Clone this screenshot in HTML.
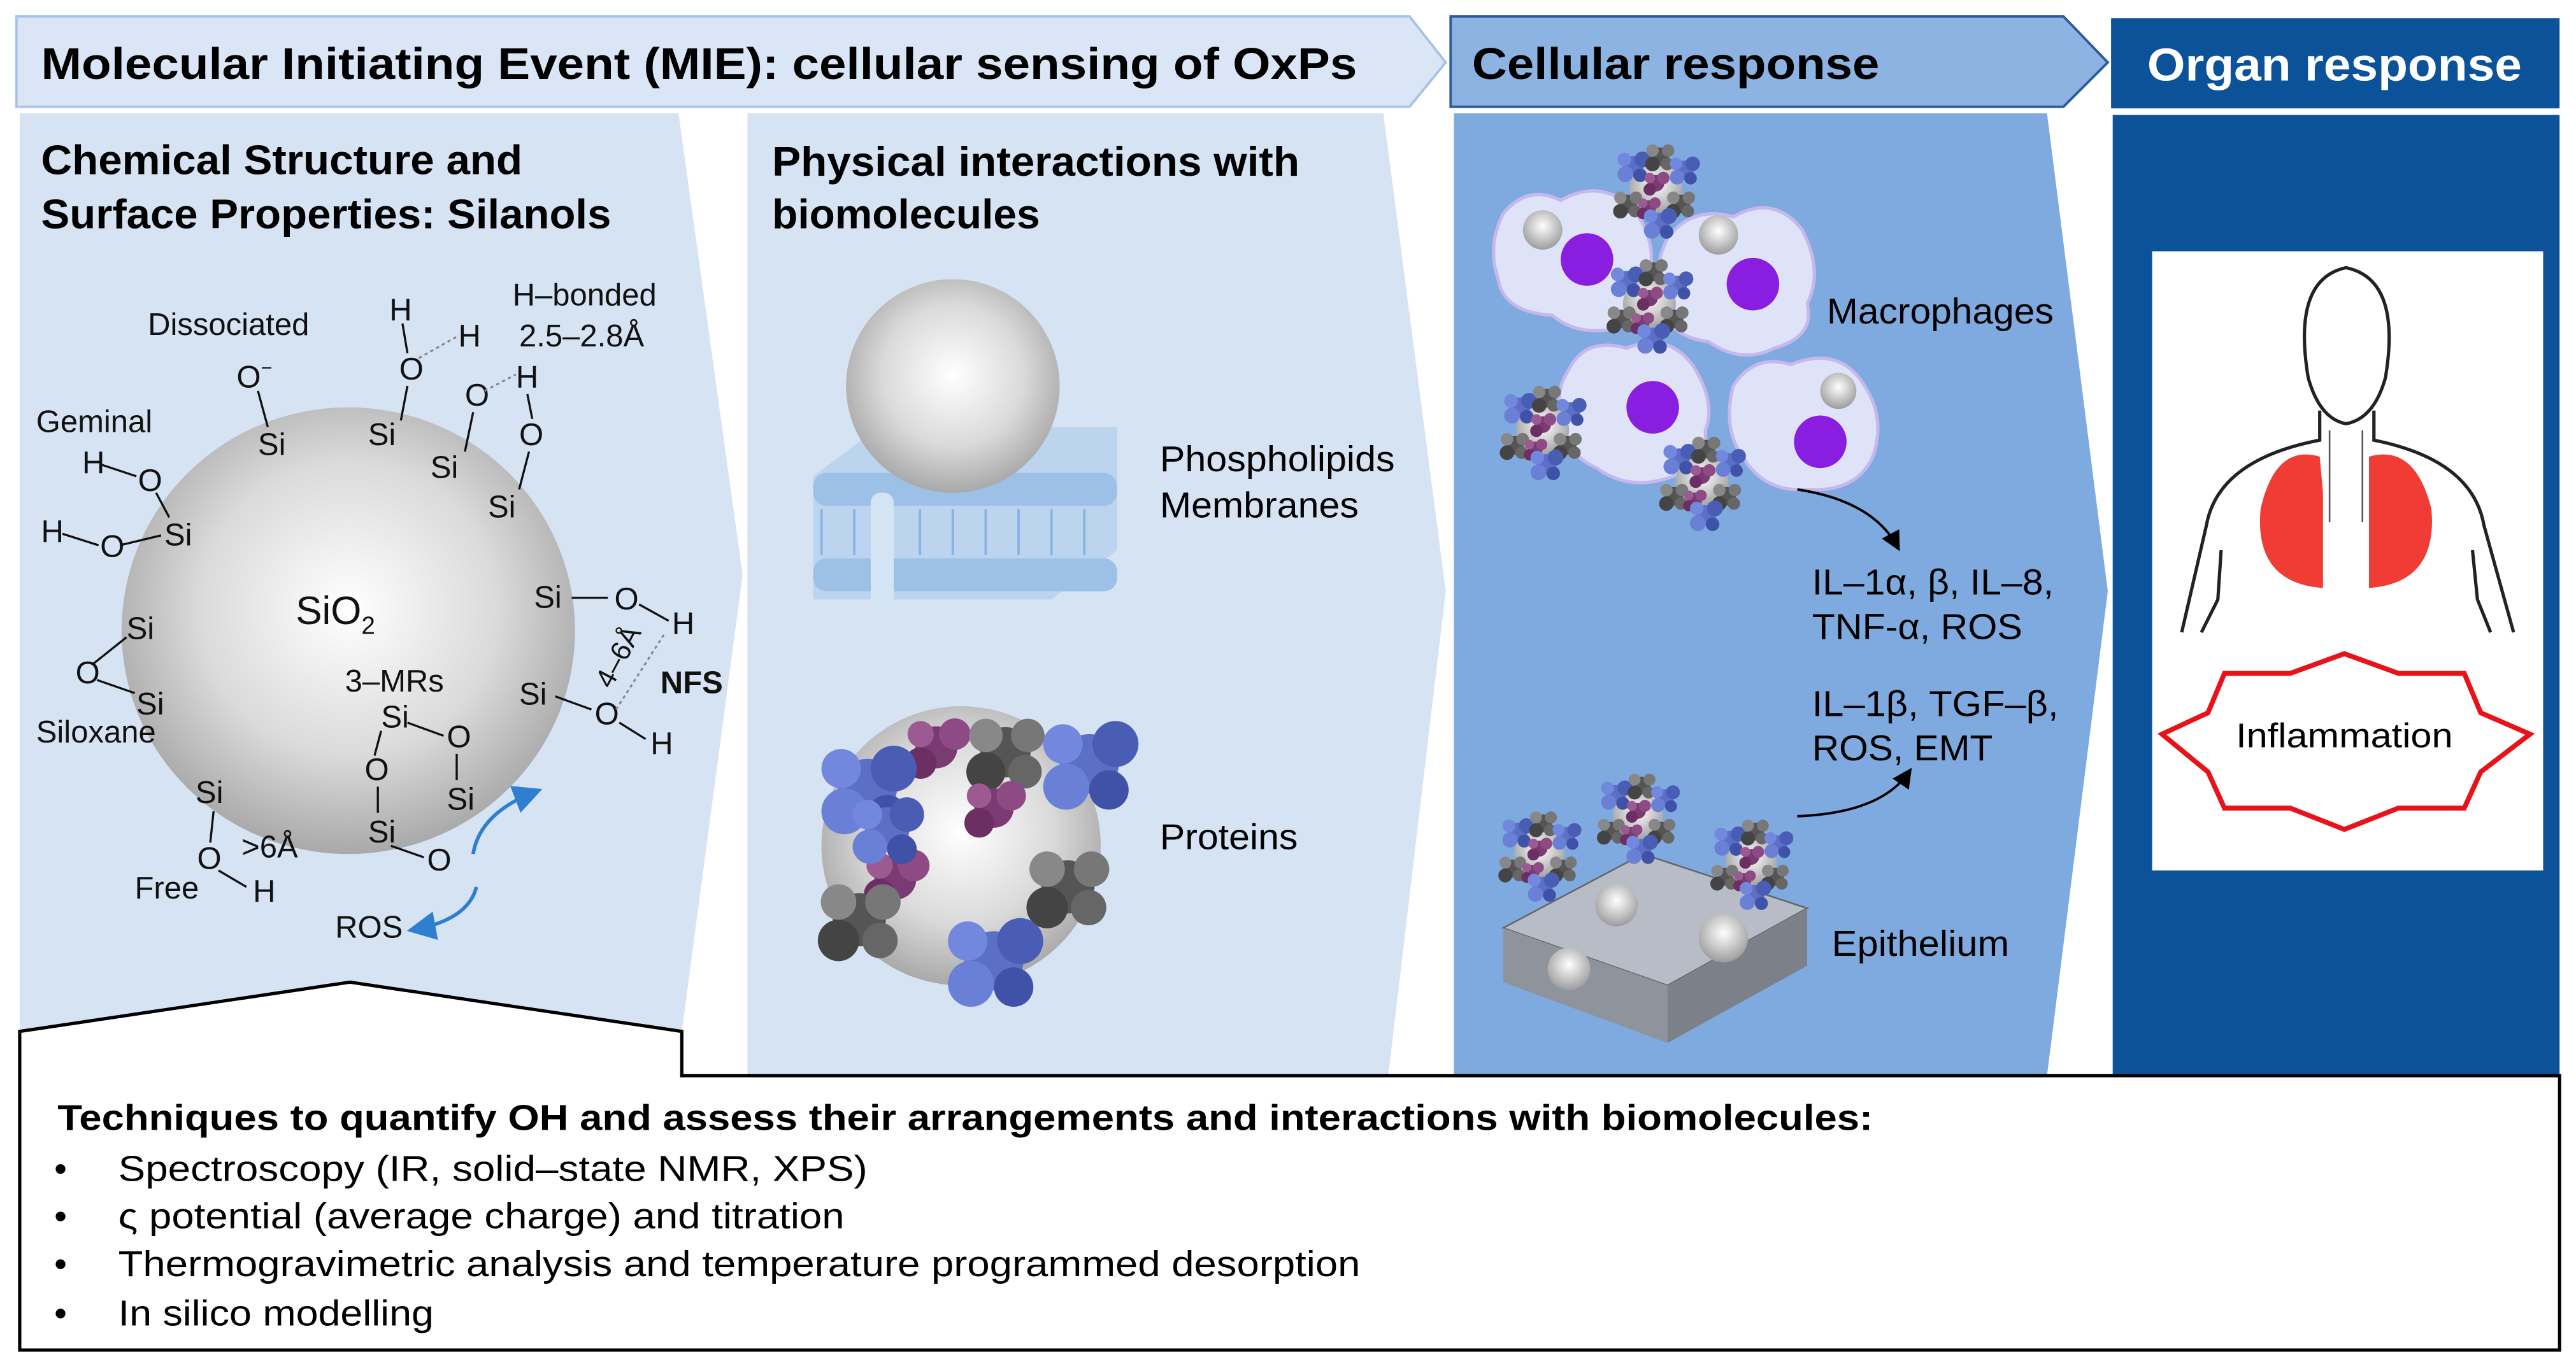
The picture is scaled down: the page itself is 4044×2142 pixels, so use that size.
<!DOCTYPE html>
<html><head><meta charset="utf-8"><style>
html,body{margin:0;padding:0;background:#fff}
svg{display:block}
text{font-family:"Liberation Sans",sans-serif}
</style></head><body>
<svg width="4044" height="2142" viewBox="0 0 1568 830.5" preserveAspectRatio="none" xmlns="http://www.w3.org/2000/svg">
<defs>
<radialGradient id="sph" cx="0.5" cy="0.45" r="0.55"><stop offset="0" stop-color="#ffffff"/><stop offset="0.6" stop-color="#dadada"/><stop offset="1" stop-color="#a9a9a9"/></radialGradient>
<radialGradient id="sph2" cx="0.5" cy="0.4" r="0.6"><stop offset="0" stop-color="#ffffff"/><stop offset="1" stop-color="#9c9c9c"/></radialGradient>
<g id="blobB"><circle cx="0" cy="0" r="9" fill="#5b6fc4"/><circle cx="8" cy="-6" r="7" fill="#4a5db5"/><circle cx="-7" cy="7" r="7" fill="#6a80d6"/><circle cx="6" cy="8" r="6" fill="#3f52a8"/><circle cx="-8" cy="-6" r="6" fill="#7288de"/></g>
<g id="blobP"><circle cx="0" cy="0" r="8" fill="#7a3a72"/><circle cx="7" cy="-5" r="6" fill="#8e4a85"/><circle cx="-6" cy="6" r="6" fill="#6b2f63"/><circle cx="-6" cy="-5" r="5" fill="#9b5a92"/></g>
<g id="blobG"><circle cx="0" cy="0" r="9" fill="#555"/><circle cx="8" cy="-6" r="6" fill="#777"/><circle cx="-7" cy="7" r="7" fill="#444"/><circle cx="7" cy="7" r="6" fill="#666"/><circle cx="-7" cy="-6" r="6" fill="#888"/></g>
<g id="part"><circle r="14" fill="url(#sph2)"/>
<use href="#blobB" transform="translate(-12,-12) scale(0.6)"/><use href="#blobG" transform="translate(2,-17) scale(0.55)"/><use href="#blobB" transform="translate(15,-10) scale(0.55)"/>
<use href="#blobP" transform="translate(0,-3) scale(0.55)"/><use href="#blobG" transform="translate(-15,8) scale(0.55)"/><use href="#blobP" transform="translate(-4,10) scale(0.5)"/>
<use href="#blobG" transform="translate(13,8) scale(0.55)"/><use href="#blobB" transform="translate(2,18) scale(0.6)"/></g>
<marker id="ah" markerWidth="8" markerHeight="8" refX="6" refY="4" orient="auto"><path d="M0,0 L8,4 L0,8 Z" fill="#000"/></marker>
<marker id="ahb" markerWidth="8" markerHeight="8" refX="6" refY="4" orient="auto"><path d="M0,0 L8,4 L0,8 Z" fill="#2f7fd0"/></marker>
</defs>

<!-- headers -->
<polygon points="10,10 858,10 880,38 858,65 10,65" fill="#dae6f6" stroke="#a9c3e6" stroke-width="1.5"/>
<text x="25" y="48" font-size="27" font-weight="bold" textLength="801" lengthAdjust="spacingAndGlyphs">Molecular Initiating Event (MIE): cellular sensing of OxPs</text>
<polygon points="883,10 1256,10 1283,38 1256,65 883,65" fill="#8db3e2" stroke="#2e5a9c" stroke-width="1.5"/>
<text x="896" y="48" font-size="27" font-weight="bold" textLength="248" lengthAdjust="spacingAndGlyphs">Cellular response</text>
<rect x="1285" y="11" width="273" height="55" fill="#0b5299"/>
<text x="1307" y="49" font-size="28" font-weight="bold" fill="#fff" textLength="228" lengthAdjust="spacingAndGlyphs">Organ response</text>

<!-- panels -->
<polygon points="12,69 413,69 452,350 415,628 213,598 12,628" fill="#d6e3f3"/>
<polygon points="455,69 842,69 880,360 845,655 455,655" fill="#d6e3f3"/>
<polygon points="885,69 1246,69 1283,360 1246,655 885,655" fill="#7faadf"/>
<rect x="1286" y="70" width="272" height="585" fill="#0b5299"/>

<!-- bottom box -->
<polygon points="12,628 213,598 415,628 415,655 1558,655 1558,822 12,822" fill="#fff" stroke="#000" stroke-width="2"/>
<text x="35" y="688" font-size="22" font-weight="bold" textLength="1105" lengthAdjust="spacingAndGlyphs">Techniques to quantify OH and assess their arrangements and interactions with biomolecules:</text>
<g font-size="22">
<text x="33" y="719">•</text><text x="72" y="719" textLength="456" lengthAdjust="spacingAndGlyphs">Spectroscopy (IR, solid–state NMR, XPS)</text>
<text x="33" y="748">•</text><text x="72" y="748" textLength="442" lengthAdjust="spacingAndGlyphs">ς potential (average charge) and titration</text>
<text x="33" y="777">•</text><text x="72" y="777" textLength="756" lengthAdjust="spacingAndGlyphs">Thermogravimetric analysis and temperature programmed desorption</text>
<text x="33" y="807">•</text><text x="72" y="807" textLength="192" lengthAdjust="spacingAndGlyphs">In silico modelling</text>
</g>

<!-- panel 1 -->
<text x="25" y="106" font-size="25" font-weight="bold" textLength="293" lengthAdjust="spacingAndGlyphs">Chemical Structure and</text>
<text x="25" y="139" font-size="25" font-weight="bold" textLength="347" lengthAdjust="spacingAndGlyphs">Surface Properties: Silanols</text>
<ellipse cx="212" cy="384" rx="138" ry="136" fill="url(#sph)"/>
<g font-size="19" fill="#111">
<text x="90" y="204">Dissociated</text>
<text x="312" y="186">H–bonded</text><text x="316" y="211">2.5–2.8Å</text>
<text x="144" y="236">O<tspan font-size="12" dy="-8">−</tspan></text>
<text x="157" y="277">Si</text>
<text x="237" y="195">H</text><text x="243" y="231">O</text><text x="224" y="271">Si</text>
<text x="279" y="211">H</text><text x="283" y="247">O</text><text x="262" y="291">Si</text>
<text x="314" y="236">H</text><text x="316" y="271">O</text><text x="297" y="315">Si</text>
<text x="22" y="263">Geminal</text>
<text x="50" y="288">H</text><text x="84" y="299">O</text><text x="100" y="332">Si</text>
<text x="25" y="330">H</text><text x="61" y="339">O</text>
<text x="180" y="380" font-size="24">SiO<tspan font-size="15" dy="6">2</tspan></text>
<text x="77" y="389">Si</text><text x="46" y="416">O</text><text x="83" y="435">Si</text>
<text x="22" y="452">Siloxane</text>
<text x="210" y="421">3–MRs</text>
<text x="232" y="443">Si</text><text x="272" y="455">O</text><text x="222" y="475">O</text><text x="272" y="493">Si</text><text x="224" y="513">Si</text><text x="260" y="530">O</text>
<text x="119" y="489">Si</text><text x="120" y="529">O</text><text x="147" y="522">&gt;6Å</text>
<text x="82" y="547">Free</text><text x="154" y="549">H</text>
<text x="325" y="370">Si</text><text x="374" y="371">O</text><text x="409" y="386">H</text>
<text x="316" y="429">Si</text><text x="362" y="441">O</text><text x="396" y="459">H</text>
<text x="402" y="422" font-weight="bold">NFS</text>
<text x="204" y="571">ROS</text>
<text x="0" y="0" font-size="17" transform="translate(372,420) rotate(-62)">4–6Å</text>
</g>
<g stroke="#111" stroke-width="1.3" fill="none">
<line x1="157" y1="238" x2="163" y2="260"/><line x1="248" y1="235" x2="244" y2="256"/><line x1="245" y1="197" x2="248" y2="215"/>
<line x1="288" y1="251" x2="283" y2="275"/><line x1="321" y1="240" x2="324" y2="255"/><line x1="322" y1="275" x2="316" y2="298"/>
<line x1="62" y1="283" x2="83" y2="290"/><line x1="95" y1="300" x2="103" y2="315"/><line x1="38" y1="325" x2="60" y2="332"/><line x1="73" y1="332" x2="98" y2="326"/>
<line x1="57" y1="404" x2="77" y2="388"/><line x1="59" y1="414" x2="82" y2="422"/>
<line x1="130" y1="494" x2="128" y2="513"/><line x1="133" y1="530" x2="150" y2="540"/>
<line x1="348" y1="364" x2="370" y2="364"/><line x1="389" y1="368" x2="407" y2="378"/>
<line x1="338" y1="424" x2="360" y2="432"/><line x1="377" y1="440" x2="393" y2="450"/>
<line x1="248" y1="440" x2="270" y2="448"/><line x1="232" y1="445" x2="228" y2="460"/><line x1="278" y1="459" x2="278" y2="475"/><line x1="230" y1="479" x2="230" y2="495"/><line x1="238" y1="515" x2="258" y2="522"/>
</g>
<g stroke="#888" stroke-width="1.2" stroke-dasharray="2,2"><line x1="255" y1="218" x2="278" y2="205"/><line x1="295" y1="238" x2="314" y2="228"/><line x1="375" y1="432" x2="405" y2="385"/></g>
<path d="M288,520 Q292,495 326,482" stroke="#2f7fd0" stroke-width="2.2" fill="none" marker-end="url(#ahb)"/>
<path d="M290,540 Q285,560 252,566" stroke="#2f7fd0" stroke-width="2.2" fill="none" marker-end="url(#ahb)"/>

<!-- panel 2 -->
<text x="470" y="107" font-size="25" font-weight="bold" textLength="321" lengthAdjust="spacingAndGlyphs">Physical interactions with</text>
<text x="470" y="139" font-size="25" font-weight="bold" textLength="163" lengthAdjust="spacingAndGlyphs">biomolecules</text>
<polygon points="495,290 535,260 680,260 680,335 640,365 495,365" fill="#bcd4ee"/>
<g fill="#9cc0e6">
<rect x="495" y="288" width="185" height="20" rx="8"/><rect x="495" y="340" width="185" height="20" rx="8"/>
</g>
<g stroke="#8ab3de" stroke-width="1.5"><line x1="500" y1="310" x2="500" y2="338"/><line x1="520" y1="310" x2="520" y2="338"/><line x1="560" y1="310" x2="560" y2="338"/><line x1="580" y1="310" x2="580" y2="338"/><line x1="600" y1="310" x2="600" y2="338"/><line x1="620" y1="310" x2="620" y2="338"/><line x1="640" y1="310" x2="640" y2="338"/><line x1="660" y1="310" x2="660" y2="338"/></g>
<rect x="530" y="300" width="14" height="70" rx="6" fill="#d4e4f5"/>
<circle cx="580" cy="235" r="65" fill="url(#sph)"/>
<text x="706" y="287" font-size="22" textLength="143" lengthAdjust="spacingAndGlyphs">Phospholipids</text>
<text x="706" y="315" font-size="22" textLength="121" lengthAdjust="spacingAndGlyphs">Membranes</text>
<circle cx="585" cy="515" r="85" fill="url(#sph)"/>
<use href="#blobP" transform="translate(570,455) scale(1.6)"/><use href="#blobG" transform="translate(612,458) scale(1.7)"/>
<use href="#blobB" transform="translate(528,480) scale(2)"/><use href="#blobB" transform="translate(663,465) scale(2)"/>
<use href="#blobP" transform="translate(605,492) scale(1.5)"/><use href="#blobP" transform="translate(545,535) scale(1.6)"/>
<use href="#blobG" transform="translate(650,540) scale(1.8)"/><use href="#blobG" transform="translate(523,560) scale(1.8)"/>
<use href="#blobB" transform="translate(605,585) scale(2)"/><use href="#blobB" transform="translate(540,505) scale(1.5)"/>
<text x="706" y="517" font-size="22" textLength="84" lengthAdjust="spacingAndGlyphs">Proteins</text>

<!-- panel 3 -->
<g fill="#dfe3f8" stroke="#c6b8ee" stroke-width="2">
<path d="M915,130 Q930,112 950,122 Q975,108 995,128 Q1010,150 1003,170 Q1008,190 985,200 Q960,205 945,192 Q915,190 912,170 Q905,150 915,130 Z"/>
<path d="M1015,145 Q1030,125 1055,132 Q1080,118 1097,140 Q1110,165 1100,185 Q1105,205 1080,212 Q1060,222 1040,208 Q1015,205 1012,185 Q1005,165 1015,145 Z"/>
<path d="M955,225 Q965,205 990,212 Q1015,202 1030,222 Q1045,245 1038,262 Q1040,285 1012,292 Q990,298 972,285 Q950,275 952,255 Q945,240 955,225 Z"/>
<path d="M1055,235 Q1068,215 1090,222 Q1120,210 1135,235 Q1148,255 1140,278 Q1130,300 1100,298 Q1075,300 1062,280 Q1048,262 1055,235 Z"/>
</g>
<g fill="#8a1ee0"><circle cx="966" cy="158" r="16"/><circle cx="1067" cy="173" r="16"/><circle cx="1006" cy="248" r="16"/><circle cx="1108" cy="269" r="16"/></g>
<g fill="url(#sph2)"><circle cx="939" cy="140" r="12"/><circle cx="1046" cy="143" r="12"/><circle cx="1119" cy="238" r="11"/></g>
<use href="#part" transform="translate(1008,115) scale(1.15)"/>
<use href="#part" transform="translate(1004,185) scale(1.15)"/>
<use href="#part" transform="translate(939,262) scale(1.15)"/>
<use href="#part" transform="translate(1036,293) scale(1.15)"/>
<text x="1112" y="197" font-size="22" textLength="138" lengthAdjust="spacingAndGlyphs">Macrophages</text>
<path d="M1094,298 Q1140,305 1155,333" stroke="#000" stroke-width="1.5" fill="none" marker-end="url(#ah)"/>
<g font-size="22"><text x="1103" y="362" textLength="147" lengthAdjust="spacingAndGlyphs">IL–1α, β, IL–8,</text><text x="1103" y="389" textLength="128" lengthAdjust="spacingAndGlyphs">TNF-α, ROS</text>
<text x="1103" y="436" textLength="150" lengthAdjust="spacingAndGlyphs">IL–1β, TGF–β,</text><text x="1103" y="463" textLength="110" lengthAdjust="spacingAndGlyphs">ROS, EMT</text>
<text x="1115" y="582" textLength="108" lengthAdjust="spacingAndGlyphs">Epithelium</text></g>
<path d="M1094,497 Q1145,495 1162,470" stroke="#000" stroke-width="1.5" fill="none" marker-end="url(#ah)"/>
<polygon points="915,565 1000,520 1100,553 1015,600" fill="#b8bcc6" stroke="#666" stroke-width="1"/>
<polygon points="915,565 1015,600 1015,635 915,598" fill="#8e939c"/>
<polygon points="1015,600 1100,553 1100,588 1015,635" fill="#7b8089"/>
<g fill="url(#sph2)"><circle cx="984" cy="551" r="13"/><circle cx="1049" cy="571" r="15"/><circle cx="955" cy="590" r="13"/></g>
<use href="#part" transform="translate(997,497) scale(1.1)"/>
<use href="#part" transform="translate(937,520) scale(1.1)"/>
<use href="#part" transform="translate(1066,525) scale(1.1)"/>

<!-- panel 4 -->
<rect x="1310" y="153" width="238" height="377" fill="#fff"/>
<path d="M1418,262 L1418,318 M1438,262 L1438,318" stroke="#555" stroke-width="1"/>
<path d="M1412,278 Q1385,270 1376,310 Q1372,355 1414,358 L1414,300 Z" fill="#f03c35"/>
<path d="M1442,278 Q1470,270 1480,310 Q1484,355 1442,358 L1442,300 Z" fill="#f03c35"/>
<g stroke="#222" stroke-width="2" fill="none">
<path d="M1405,230 Q1395,170 1428,163 Q1462,170 1452,230 Q1445,255 1428,258 Q1412,255 1405,230 Z"/>
<path d="M1412,250 L1412,268 Q1350,280 1343,320 L1328,385"/><path d="M1445,250 L1445,268 Q1505,280 1512,320 L1530,385"/>
<path d="M1352,335 L1350,365 L1340,385"/><path d="M1505,335 L1508,365 L1516,385"/>
</g>
<polygon points="1427,398 1460,410 1500,410 1510,434 1540,447 1510,470 1500,492 1460,492 1427,505 1394,492 1354,492 1344,470 1316,447 1344,434 1354,410 1394,410" fill="#fff" stroke="#e8121a" stroke-width="3"/>
<text x="1427" y="455" font-size="21" text-anchor="middle" textLength="132" lengthAdjust="spacingAndGlyphs">Inflammation</text>
</svg>
</body></html>
